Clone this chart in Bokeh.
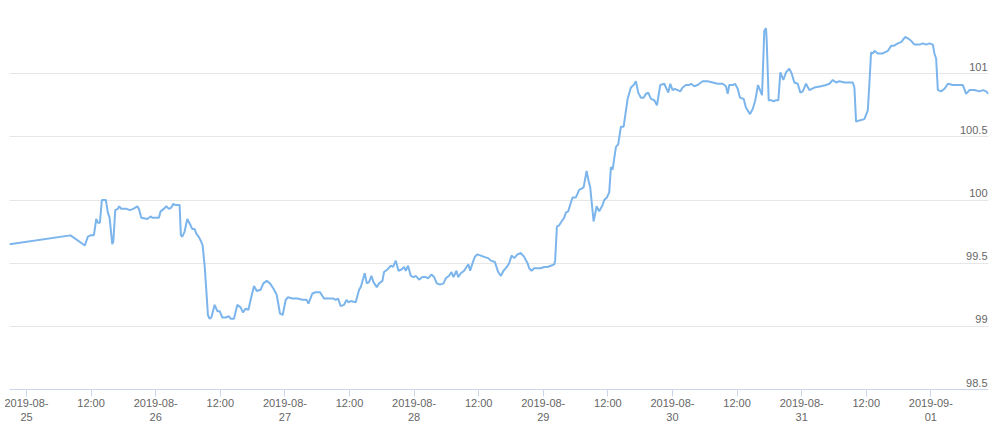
import pandas as pd
from bokeh.plotting import figure
from bokeh.models import FixedTicker, Grid, Range1d, ColumnDataSource
from bokeh.core.properties import value
from bokeh.embed import file_html
from bokeh.resources import INLINE

# ---------------- data ----------------
start = "2019-08-25 00:00"

# hours after 2019-08-25 00:00
hours = [
    -3.16, 8.18, 10.84, 11.40, 11.90, 12.51, 12.96, 13.25, 13.63, 14.00,
    14.74, 15.11, 15.43, 15.93, 16.12, 16.49, 16.97, 17.23, 17.60, 18.09,
    18.59, 19.20, 19.84, 20.58, 20.88, 21.32, 22.44, 23.05, 23.37, 24.59,
    24.91, 25.52, 25.97, 26.45, 26.90, 27.27, 27.70, 28.02, 28.44, 28.68,
    28.94, 29.37, 29.87, 30.36, 30.80, 31.23, 31.60, 31.97, 32.35, 32.72,
    33.09, 33.46, 33.70, 34.02, 34.34, 34.95, 35.45, 35.88, 36.38, 36.99,
    37.61, 37.92, 38.54, 39.17, 39.78, 40.21, 40.71, 41.21, 41.64, 42.26,
    42.76, 43.50, 44.00, 44.62, 45.23, 45.86, 46.48, 47.09, 47.59, 48.15,
    48.58, 49.39, 50.32, 51.25, 52.05, 52.37, 53.11, 53.73, 54.53, 55.27,
    56.20, 57.02, 57.44, 57.87, 58.37, 58.99, 59.43, 59.80, 60.23, 61.16,
    61.78, 62.09, 62.83, 63.21, 63.63, 64.08, 64.45, 65.07, 65.49, 66.12,
    66.42, 67.05, 67.67, 68.10, 68.60, 69.10, 69.66, 70.14, 70.46, 70.88,
    71.39, 71.89, 72.32, 72.93, 73.56, 74.17, 74.60, 75.23, 75.72, 76.22,
    76.83, 77.46, 77.89, 78.51, 78.95, 79.32, 79.88, 80.18, 80.68, 81.29,
    81.74, 82.11, 82.41, 82.86, 83.28, 83.79, 84.40, 85.01, 85.76, 86.26,
    87.00, 87.62, 88.12, 88.62, 89.23, 89.66, 90.11, 90.59, 91.22, 91.84,
    92.45, 93.08, 93.38, 93.82, 94.31, 94.94, 95.55, 96.17, 96.80, 97.41,
    98.03, 98.21, 98.53, 98.95, 99.40, 99.89, 100.20, 100.63, 101.13, 101.45,
    102.06, 102.67, 103.12, 103.49, 104.05, 104.42, 104.72, 105.35, 105.91, 106.39,
    107.02, 107.32, 107.82, 108.25, 108.57, 108.88, 109.50, 109.92, 110.42, 110.93,
    111.67, 112.28, 112.79, 113.21, 113.64, 114.14, 114.65, 115.07, 115.50, 116.00,
    116.62, 117.12, 117.73, 118.48, 119.22, 119.59, 120.03, 120.46, 120.96, 121.45,
    121.89, 122.51, 123.12, 123.44, 124.05, 124.68, 125.61, 126.54, 127.47, 128.40,
    129.33, 129.94, 130.26, 130.56, 131.19, 131.62, 132.12, 132.55, 133.23, 133.66,
    134.41, 134.91, 135.39, 135.89, 136.64, 137.06, 137.38, 137.51, 137.88, 138.31,
    138.81, 139.24, 139.67, 140.04, 140.60, 141.10, 141.71, 142.16, 142.64, 143.27,
    143.76, 144.20, 144.82, 145.43, 146.36, 147.60, 148.53, 149.15, 149.78, 150.39,
    151.01, 151.94, 152.87, 153.50, 153.80, 154.11, 154.72, 155.65, 156.29, 156.58,
    156.90, 157.22, 157.51, 158.14, 159.07, 160.00, 160.62, 161.12, 161.86, 162.48,
    163.22, 163.72, 164.34, 164.95, 165.88, 166.51, 167.12, 167.74, 168.37, 168.67,
    168.98, 169.30, 169.91, 170.53, 171.16, 172.09, 173.02, 173.95, 174.56, 175.17,
    176.10, 177.03, 177.67, 178.28, 178.71,
]

prices = [
    99.65, 99.72, 99.64, 99.71, 99.72, 99.72, 99.85, 99.82, 99.82, 100.00,
    100.00, 99.90, 99.86, 99.65, 99.67, 99.92, 99.93, 99.95, 99.93, 99.93,
    99.93, 99.92, 99.93, 99.95, 99.93, 99.86, 99.85, 99.87, 99.86, 99.86,
    99.91, 99.93, 99.95, 99.93, 99.94, 99.97, 99.96, 99.96, 99.96, 99.72,
    99.71, 99.75, 99.85, 99.81, 99.77, 99.77, 99.73, 99.71, 99.68, 99.64,
    99.48, 99.25, 99.09, 99.06, 99.07, 99.17, 99.12, 99.12, 99.07, 99.07,
    99.08, 99.06, 99.06, 99.17, 99.15, 99.11, 99.14, 99.13, 99.21, 99.32,
    99.28, 99.29, 99.34, 99.36, 99.34, 99.30, 99.25, 99.10, 99.09, 99.21,
    99.23, 99.22, 99.22, 99.21, 99.21, 99.18, 99.26, 99.27, 99.27, 99.22,
    99.22, 99.22, 99.21, 99.22, 99.16, 99.17, 99.21, 99.19, 99.20, 99.19,
    99.29, 99.31, 99.42, 99.34, 99.35, 99.40, 99.35, 99.31, 99.34, 99.36,
    99.43, 99.45, 99.48, 99.47, 99.52, 99.44, 99.45, 99.47, 99.44, 99.48,
    99.40, 99.39, 99.40, 99.37, 99.39, 99.39, 99.38, 99.41, 99.39, 99.34,
    99.33, 99.34, 99.38, 99.40, 99.43, 99.39, 99.44, 99.39, 99.42, 99.44,
    99.47, 99.49, 99.44, 99.50, 99.55, 99.57, 99.56, 99.55, 99.54, 99.52,
    99.51, 99.43, 99.40, 99.44, 99.47, 99.50, 99.56, 99.54, 99.57, 99.58,
    99.55, 99.50, 99.46, 99.44, 99.46, 99.46, 99.46, 99.47, 99.47, 99.48,
    99.49, 99.52, 99.79, 99.80, 99.83, 99.86, 99.90, 99.91, 99.98, 100.02,
    100.02, 100.08, 100.09, 100.10, 100.23, 100.15, 100.10, 99.83, 99.95, 99.91,
    99.96, 100.00, 100.02, 100.06, 100.26, 100.24, 100.42, 100.44, 100.58, 100.58,
    100.80, 100.89, 100.91, 100.94, 100.85, 100.81, 100.81, 100.84, 100.85, 100.80,
    100.79, 100.75, 100.91, 100.92, 100.85, 100.92, 100.87, 100.88, 100.87, 100.86,
    100.89, 100.91, 100.91, 100.92, 100.90, 100.91, 100.94, 100.94, 100.93, 100.92,
    100.92, 100.90, 100.84, 100.91, 100.91, 100.92, 100.88, 100.81, 100.80, 100.73,
    100.68, 100.72, 100.79, 100.91, 100.83, 101.34, 101.36, 101.26, 100.79, 100.79,
    100.78, 100.79, 100.79, 101.01, 100.95, 101.01, 101.04, 101.00, 100.93, 100.92,
    100.85, 100.86, 100.92, 100.87, 100.89, 100.90, 100.91, 100.92, 100.95, 100.93,
    100.94, 100.93, 100.93, 100.93, 100.89, 100.62, 100.63, 100.64, 100.71, 100.92,
    101.17, 101.16, 101.18, 101.16, 101.16, 101.18, 101.22, 101.22, 101.24, 101.25,
    101.29, 101.28, 101.26, 101.23, 101.23, 101.24, 101.23, 101.24, 101.23, 101.16,
    101.12, 100.87, 100.86, 100.88, 100.92, 100.91, 100.91, 100.91, 100.84, 100.87,
    100.87, 100.86, 100.87, 100.86, 100.84,
]

tick_times = [
    "2019-08-25 00:00", "2019-08-25 12:00", "2019-08-26 00:00", "2019-08-26 12:00",
    "2019-08-27 00:00", "2019-08-27 12:00", "2019-08-28 00:00", "2019-08-28 12:00",
    "2019-08-29 00:00", "2019-08-29 12:00", "2019-08-30 00:00", "2019-08-30 12:00",
    "2019-08-31 00:00", "2019-08-31 12:00", "2019-09-01 00:00",
]
tick_labels = [
    "2019-08-\n25", "12:00", "2019-08-\n26", "12:00", "2019-08-\n27", "12:00",
    "2019-08-\n28", "12:00", "2019-08-\n29", "12:00", "2019-08-\n30", "12:00",
    "2019-08-\n31", "12:00", "2019-09-\n01",
]
y_grid = [98.5, 99.0, 99.5, 100.0, 100.5, 101.0, 101.5]
y_label_vals = [98.5, 99.0, 99.5, 100.0, 100.5, 101.0]
y_labels = ["98.5", "99", "99.5", "100", "100.5", "101"]

# ---------------- build ----------------
FONT = "Liberation Sans"
TXT = "#666666"

times = pd.Timestamp(start) + pd.to_timedelta(hours, unit="h")
src = ColumnDataSource(dict(t=times, v=prices))

p = figure(
    frame_width=979, frame_height=379,
    x_axis_type="datetime", y_axis_location=None,
    x_range=Range1d(times[0], times[-1]),
    y_range=Range1d(y_grid[0], y_grid[-1]),
    output_backend="svg", toolbar_location=None,
    min_border_left=9, min_border_right=4, min_border_top=10, min_border_bottom=0,
    outline_line_color=None, background_fill_color="white",
)
p.xgrid.visible = False
p.add_layout(Grid(dimension=1, ticker=FixedTicker(ticks=y_grid),
                  grid_line_color="#e6e6e6", grid_line_width=1))

tick_ms = [int(pd.Timestamp(s).value // 10**6) for s in tick_times]
overrides = dict(zip(tick_ms, tick_labels))

ax = p.xaxis[0]
ax.ticker = FixedTicker(ticks=tick_ms)
ax.major_label_overrides = overrides
ax.axis_line_color = "#ccd6eb"
ax.major_tick_line_color = "#ccd6eb"
ax.major_tick_out = 7
ax.major_tick_in = 0
ax.minor_tick_line_color = None
ax.major_label_text_font = FONT
ax.major_label_text_font_size = "11px"
ax.major_label_text_color = TXT
ax.major_label_standoff = 0

p.line("t", "v", source=src, line_color="#7cb5ec", line_width=2)

p.text(x=[times[-1]] * len(y_label_vals), y=y_label_vals, text=y_labels,
       text_align="right", text_baseline="alphabetic",
       x_offset=-1, y_offset=-7,
       text_font=value(FONT), text_font_size="11px", text_color=TXT)

open("out.html", "w").write(file_html(p, INLINE))
